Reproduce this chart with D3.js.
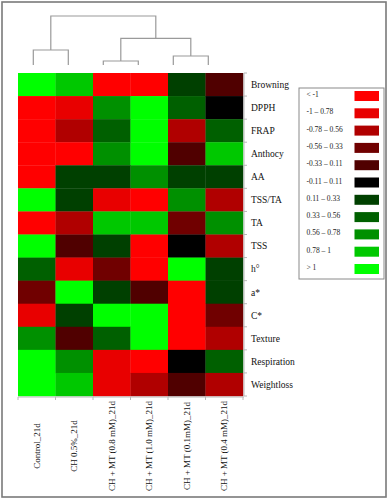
<!DOCTYPE html>
<html>
<head>
<meta charset="utf-8">
<script src="https://cdn.jsdelivr.net/npm/d3@7"></script>
<style>
  body { margin: 0; background: #fff; }
  svg text { font-family: "Liberation Serif", "Times New Roman", "DejaVu Serif", serif; }
</style>
</head>
<body>
<div id="chart"></div>
<script>
// Datos
const columnas = ["Control_21d", "CH 0.5%_21d", "CH + MT (0.8 mM)_21d",
  "CH + MT (1.0 mM)_21d", "CH + MT (0.1mM)_21d", "CH + MT (0.4 mM)_21d"];
const filas = ["Browning", "DPPH", "FRAP", "Anthocy", "AA", "TSS/TA", "TA",
  "TSS", "h°", "a*", "C*", "Texture", "Respiration", "Weightloss"];

// valores estandarizados (una fila por variable, mismo orden que columnas)
const valores = [
  [1.25, 0.88, -1.15, -1.2, 0.22, -0.25],
  [-1.3, -0.9, 0.68, 1.3, 0.45, 0.02],
  [-1.25, -0.66, 0.42, 1.25, -0.62, 0.44],
  [-1.2, -1.1, 0.66, 1.22, -0.27, 0.85],
  [-1.4, 0.24, 0.22, 0.64, 0.18, 0.2],
  [1.3, 0.25, -0.92, -1.05, 0.62, -0.68],
  [-1.15, -0.7, 0.9, 0.86, -0.42, 0.64],
  [1.2, -0.24, 0.2, -1.25, -0.03, -0.66],
  [0.46, -0.88, -0.44, -1.1, 1.3, 0.24],
  [-0.45, 1.28, 0.22, -0.26, -1.3, 0.2],
  [-0.9, 0.2, 1.15, 1.1, -1.2, -0.48],
  [0.62, -0.22, 0.4, 1.2, -1.25, -0.7],
  [1.3, 0.65, -0.86, -1.1, 0.01, 0.44],
  [1.2, 0.9, -0.88, -0.72, -0.28, -0.68]
];

const umbrales = [-1, -0.78, -0.56, -0.33, -0.11, 0.11, 0.33, 0.56, 0.78, 1];
const coloresLeyenda = ["#ff0000", "#e80000", "#b00000", "#700000", "#500000",
  "#000000", "#004000", "#006000", "#009000", "#00c800", "#00ff00"];
const etiquetasLeyenda = ["< -1", "-1 \u2013 0.78", "-0.78 \u2013 0.56", "-0.56 \u2013 0.33",
  "-0.33 \u2013 0.11", "-0.11 \u2013 0.11", "0.11 \u2013 0.33", "0.33 \u2013 0.56",
  "0.56 \u2013 0.78", "0.78 \u2013 1", "> 1"];

// dendrograma de columnas (altura de fusión)
const arbol = {
  altura: 10, children: [
    { altura: 3.06, children: [{ nombre: columnas[0] }, { nombre: columnas[1] }] },
    { altura: 5.45, children: [
      { altura: 0.82, children: [{ nombre: columnas[2] }, { nombre: columnas[3] }] },
      { altura: 1.84, children: [{ nombre: columnas[4] }, { nombre: columnas[5] }] }
    ] }
  ]
};

const width = 389, height = 500;

const svg = d3.select("#chart").append("svg")
  .attr("width", width)
  .attr("height", height);

// marco exterior
svg.append("rect")
  .attr("x", 2).attr("y", 2)
  .attr("width", 384).attr("height", 495)
  .attr("fill", "none")
  .attr("stroke", "#7a7a7a")
  .attr("stroke-width", 1.6);

const x = d3.scaleBand().domain(columnas).range([18, 243]);
const y = d3.scaleBand().domain(filas).range([73, 396]);
const color = d3.scaleThreshold().domain(umbrales).range(coloresLeyenda);

// celdas
const celdas = [];
filas.forEach((f, i) => columnas.forEach((c, j) => celdas.push({ fila: f, col: c, v: valores[i][j] })));

svg.append("g").selectAll("rect")
  .data(celdas)
  .enter()
  .append("rect")
  .attr("x", d => x(d.col))
  .attr("y", d => y(d.fila))
  .attr("width", x.bandwidth() + 0.3)
  .attr("height", y.bandwidth() + 0.3)
  .attr("fill", d => color(d.v));

// ejes grises con marcas en los bordes de las celdas
const gris = "#b8b8b8";
const ejeDer = svg.append("g");
ejeDer.append("line")
  .attr("x1", 244).attr("x2", 244)
  .attr("y1", y.range()[0]).attr("y2", y.range()[1])
  .attr("stroke", gris);
ejeDer.selectAll("line.tick")
  .data(filas.concat(["fin"]))
  .enter().append("line")
  .attr("class", "tick")
  .attr("x1", 244).attr("x2", 247)
  .attr("y1", (d, i) => y.range()[0] + i * y.step())
  .attr("y2", (d, i) => y.range()[0] + i * y.step())
  .attr("stroke", gris);

const ejeInf = svg.append("g");
ejeInf.append("line")
  .attr("x1", x.range()[0]).attr("x2", x.range()[1] + 1)
  .attr("y1", 397).attr("y2", 397)
  .attr("stroke", gris);
ejeInf.selectAll("line.tick")
  .data(columnas.concat(["fin"]))
  .enter().append("line")
  .attr("class", "tick")
  .attr("y1", 397).attr("y2", 400)
  .attr("x1", (d, i) => x.range()[0] + i * x.step())
  .attr("x2", (d, i) => x.range()[0] + i * x.step())
  .attr("stroke", gris);

// etiquetas de filas
svg.append("g").selectAll("text")
  .data(filas)
  .enter().append("text")
  .attr("x", 251)
  .attr("y", d => y(d) + y.bandwidth() / 2)
  .attr("dy", "0.35em")
  .style("font-size", "9.5px")
  .attr("fill", "#111")
  .text(d => d);

// etiquetas de columnas (giradas)
svg.append("g").selectAll("text")
  .data(columnas)
  .enter().append("text")
  .attr("transform", d => `translate(${x(d) + x.bandwidth() / 2 + 3}, 446) rotate(-90)`)
  .attr("text-anchor", "middle")
  .style("font-size", "9px")
  .attr("fill", "#111")
  .text(d => d);

// dendrograma
const raiz = d3.hierarchy(arbol);
const xd = d3.scalePoint().domain(columnas).range([33.3, 208.3]);
const yd = d3.scaleLinear().domain([0, 10]).range([65, 16]);

raiz.eachAfter(n => {
  if (!n.children) {
    n.px = xd(n.data.nombre);
    n.py = yd(0);
  } else {
    n.px = d3.mean(n.children, c => c.px);
    n.py = yd(n.data.altura);
  }
});

const gDendro = svg.append("g")
  .attr("stroke", "#9a9a9a")
  .attr("stroke-width", 1.2)
  .attr("fill", "none");

raiz.descendants().filter(n => n.children).forEach(n => {
  const [a, b] = n.children;
  gDendro.append("path")
    .attr("d", `M${a.px},${a.py}V${n.py}H${b.px}V${b.py}`);
});

// leyenda
const leyenda = svg.append("g");
leyenda.append("rect")
  .attr("x", 299).attr("y", 88)
  .attr("width", 85).attr("height", 191)
  .attr("fill", "#fff")
  .attr("stroke", "#8a8a8a")
  .attr("stroke-width", 1);

etiquetasLeyenda.forEach((t, i) => {
  const fila = leyenda.append("g")
    .attr("transform", `translate(0, ${91 + i * 17.3})`);

  fila.append("rect")
    .attr("x", 354.5)
    .attr("width", 24.5)
    .attr("height", 10)
    .attr("fill", coloresLeyenda[i]);

  fila.append("text")
    .attr("x", 306.5)
    .attr("y", 6)
    .style("font-size", "7.5px")
    .attr("fill", "#222")
    .text(t);
});
</script>
</body>
</html>
